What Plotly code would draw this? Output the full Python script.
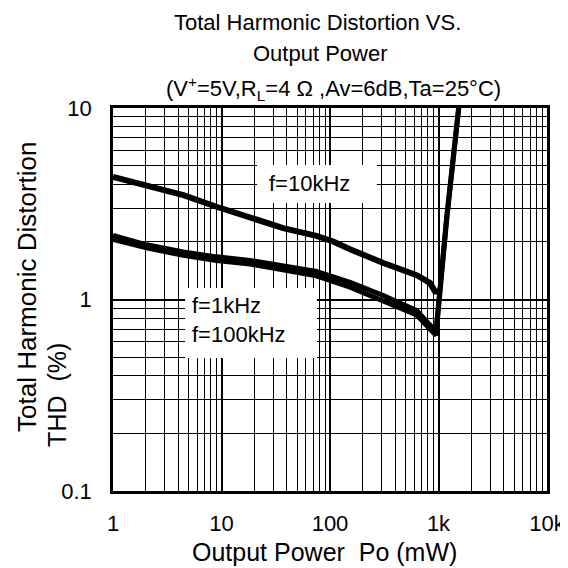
import plotly.graph_objects as go

# Data
x_10k = [1.0, 2.35, 4.45, 9.0, 18.3, 37, 75, 107, 153, 310, 630, 835, 929, 1040]
y_10k = [4.37, 3.85, 3.51, 3.05, 2.66, 2.36, 2.15, 2.01, 1.83, 1.55, 1.34, 1.22, 1.10, 1.10]

x_1k = [1.0, 2.04, 4.45, 9.0, 18.3, 37, 75, 153, 310, 630, 835, 948, 1190, 1523, 1600]
y_1k = [2.16, 1.93, 1.77, 1.67, 1.60, 1.49, 1.40, 1.23, 1.05, 0.875, 0.745, 0.68, 2.70, 10.2, 12.5]

x_100k = [1.0, 2.04, 4.45, 9.0, 18.3, 37, 75, 153, 310, 630, 835, 948, 1190, 1523, 1600]
y_100k = [2.06, 1.86, 1.70, 1.60, 1.53, 1.42, 1.33, 1.16, 0.98, 0.83, 0.70, 0.65, 2.62, 10.0, 12.3]

x_ticks = [1, 10, 100, 1000, 10000]
x_ticktext = ["1", "10", "100", "1k", "10k"]
y_ticks = [0.1, 1, 10]
y_ticktext = ["0.1", "1", "10"]

FONT = "Liberation Sans, Arial, sans-serif"

fig = go.Figure()
for xs, ys, w, name in [(x_10k, y_10k, 6, "f=10kHz"), (x_1k, y_1k, 5, "f=1kHz"), (x_100k, y_100k, 5, "f=100kHz")]:
    fig.add_trace(go.Scatter(x=xs, y=ys, mode="lines", name=name,
                             line=dict(color="black", width=w), showlegend=False))

# white label boxes covering the grid (they do not touch the curves)
for x0, x1, y0, y1 in [(0.332, 0.608, 0.752, 0.851), (0.166, 0.470, 0.347, 0.530)]:
    fig.add_shape(type="rect", xref="paper", yref="paper", x0=x0, x1=x1, y0=y0, y1=y1,
                  fillcolor="white", line=dict(width=0), layer="above")

def ann(text, x, y, size, xanchor="center", angle=0, align="center"):
    fig.add_annotation(x=x, y=y, xref="paper", yref="paper", text=text, showarrow=False,
                       xanchor=xanchor, yanchor="middle", textangle=angle, align=align,
                       font=dict(family=FONT, size=size, color="black"))

ann("f=10kHz", 0.355, 0.804, 22, xanchor="left")
ann("f=1kHz<br>f=100kHz", 0.177, 0.446, 22, xanchor="left", align="left")

ann("Total Harmonic Distortion VS.", 0.472, 1.2245, 22)
ann("Output Power", 0.477, 1.141, 22)
ann("(V<sup>+</sup>=5V,R<sub>L</sub>=4 Ω ,Av=6dB,Ta=25°C)", 0.509, 1.052, 22)

ann("Total Harmonic Distortion", -0.198, 0.533, 26, angle=-90)
ann("THD&nbsp;&nbsp;(%)", -0.129, 0.251, 25, angle=-90)
ann("Output Power&nbsp;&nbsp;Po (mW)", 0.488, -0.159, 25)

axis_common = dict(type="log", showline=True, linecolor="black", linewidth=2.5, mirror=True,
                   showgrid=True, gridcolor="black", gridwidth=1.6, ticks="", zeroline=False,
                   tickfont=dict(family=FONT, size=22, color="black"),
                   minor=dict(dtick="D1", showgrid=True, gridcolor="black", gridwidth=1.1, ticks=""))

fig.update_xaxes(**axis_common, range=[0, 4], tickvals=x_ticks, ticktext=x_ticktext,
                 ticklabelstandoff=11)
fig.update_yaxes(**axis_common, range=[-1, 1], tickvals=y_ticks, ticktext=y_ticktext,
                 ticklabelstandoff=14)

fig.update_layout(width=560, height=560, margin=dict(l=105, r=21, t=100, b=77, autoexpand=False),
                  paper_bgcolor="white", plot_bgcolor="white")

fig.write_html("out.html")
